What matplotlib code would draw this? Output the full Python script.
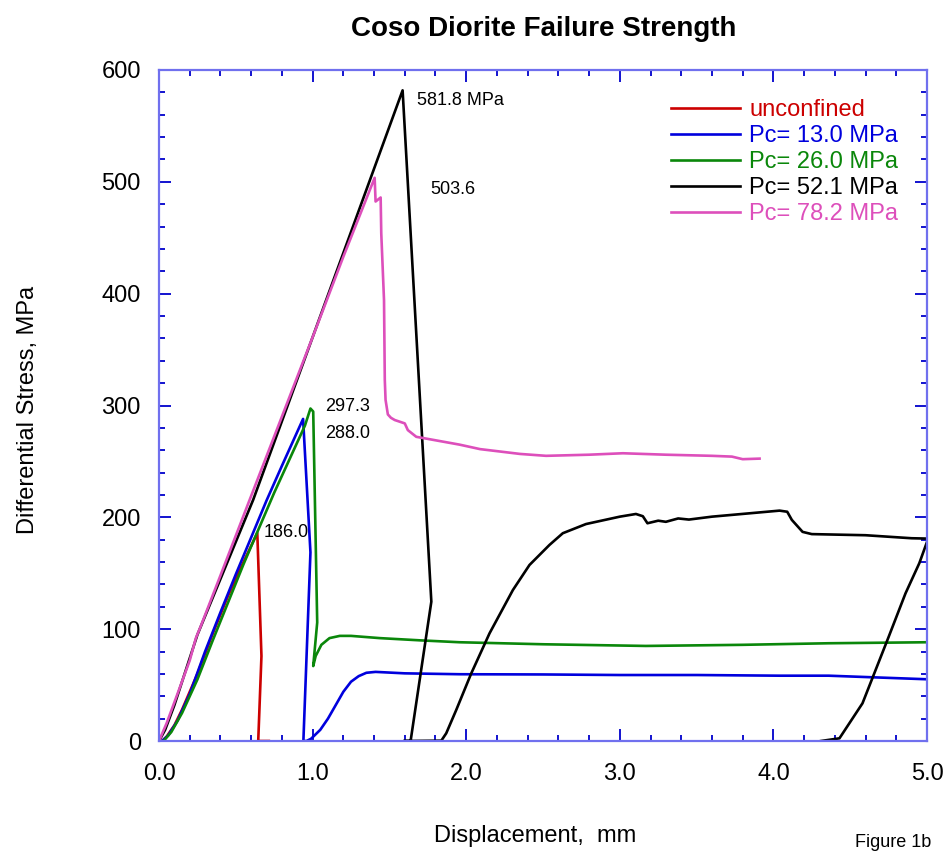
#!/usr/bin/env python3
"""
Coso Diorite failure strength: differential stress vs displacement
for the unconfined test and four confining pressures.
"""

import matplotlib
matplotlib.use('Agg')
import matplotlib.pyplot as plt
from matplotlib.ticker import MultipleLocator, FormatStrFormatter

# ---- data (displacement in mm, stress in MPa) ----
unconf_x = [0.02, 0.05, 0.10, 0.15, 0.25, 0.35, 0.45, 0.55, 0.64, 0.667, 0.646, 0.715]
unconf_y = [0, 4, 14, 28, 60, 96, 130, 160, 186.0, 76, 0, 0]

pc13_x = [0.02, 0.06, 0.12, 0.20, 0.30, 0.40, 0.50, 0.60, 0.70, 0.80, 0.938,
          0.986, 0.94, 0.96, 0.99, 1.05, 1.10, 1.15, 1.20, 1.25, 1.30, 1.35,
          1.41, 1.60, 1.96, 2.50, 3.00, 3.50, 4.04, 4.36, 5.00]
pc13_y = [0, 5, 18, 42, 80, 115, 149, 182, 215, 246, 288.0,
          168.7, 0, 0, 2, 10, 20, 32, 44, 53, 58, 61,
          61.8, 60.5, 59.7, 59.5, 59, 59, 58.4, 58.4, 55.2]

pc26_x = [0.03, 0.08, 0.15, 0.25, 0.35, 0.45, 0.55, 0.65, 0.75, 0.85, 0.95,
          0.986, 1.004, 1.03, 1.004, 1.02, 1.057, 1.11, 1.177, 1.25, 1.437,
          1.70, 1.957, 2.50, 3.17, 3.80, 4.36, 5.00]
pc26_y = [0, 8, 25, 55, 90, 124, 158, 190, 222, 252, 282,
          297.3, 294.6, 106, 67, 76, 86, 92, 94, 94, 92,
          90, 88.3, 86.5, 85, 86, 87.4, 88.3]

pc52_x = [0.0, 0.04, 0.10, 0.25, 0.613, 1.00, 1.30, 1.586, 1.773, 1.638,
          1.593, 1.838, 1.87, 1.935, 2.033, 2.152, 2.304, 2.412, 2.542,
          2.629, 2.78, 3.00, 3.105, 3.15, 3.18, 3.25, 3.30, 3.38, 3.45,
          3.60, 4.04, 4.09, 4.12, 4.19, 4.25, 4.60, 4.90, 5.00]
pc52_y = [0, 10, 32, 95, 215.6, 361, 474, 581.8, 124.6, 0,
          0, 0.3, 6.9, 27.7, 60.5, 96.3, 135, 157.4, 175.3,
          185.8, 194, 200.6, 203, 201, 194.7, 197, 196, 199, 198,
          200.6, 206, 205, 197.7, 187, 185, 184, 181.3, 181]
# second loading leg of the 52.1 MPa run, entering at the right edge
pc52_tail_x = [4.31, 4.43, 4.58, 4.75, 4.86, 4.95, 5.00]
pc52_tail_y = [0, 2.4, 33.7, 93, 132, 159, 178]

pc78_x = [0.0, 0.05, 0.12, 0.20, 0.24, 0.27, 0.40, 0.59, 0.80, 1.00, 1.20,
          1.404, 1.41, 1.443, 1.447, 1.465, 1.47, 1.475, 1.49, 1.51, 1.535,
          1.60, 1.62, 1.675, 1.957, 2.09, 2.35, 2.52, 2.80, 3.02, 3.30,
          3.60, 3.73, 3.80, 3.91]
pc78_y = [0, 16, 42, 72, 92, 102, 148, 215.6, 290, 361, 433,
          503.6, 482.4, 486, 454, 394, 323, 305, 292, 289, 287,
          284, 278, 272, 265, 261, 256.7, 255, 256, 257.3, 256,
          255, 254.3, 252, 252.5]

series_labels = ['unconfined', 'Pc= 13.0 MPa', 'Pc= 26.0 MPa',
                 'Pc= 52.1 MPa', 'Pc= 78.2 MPa']
series_colors = ['#cc0000', '#0000dd', '#0a870a', '#000000', '#dd4fbb']

# peak value labels: (x, y, text)
peak_labels = [
    (1.677, 573, '581.8 MPa'),
    (1.768, 493, '503.6'),
    (1.079, 299, '297.3'),
    (1.079, 275, '288.0'),
    (0.683, 186, '186.0'),
]


def main():
    plt.rcParams['font.family'] = ['Liberation Sans', 'DejaVu Sans']

    fig = plt.figure(figsize=(9.49, 8.52), dpi=100)
    ax = fig.add_axes([159 / 949, 111 / 852, 768 / 949, 671 / 852])

    curves = [(unconf_x, unconf_y), (pc13_x, pc13_y), (pc26_x, pc26_y),
              (pc52_x, pc52_y), (pc78_x, pc78_y)]
    for (xs, ys), label, color in zip(curves, series_labels, series_colors):
        ax.plot(xs, ys, color=color, linewidth=1.9, label=label,
                solid_joinstyle='round')
    ax.plot(pc52_tail_x, pc52_tail_y, color=series_colors[3], linewidth=1.9)

    for x, y, text in peak_labels:
        ax.text(x, y, text, fontsize=13, va='center', ha='left')

    ax.set_xlim(0, 5.0)
    ax.set_ylim(0, 600)
    ax.xaxis.set_major_locator(MultipleLocator(1.0))
    ax.xaxis.set_minor_locator(MultipleLocator(0.2))
    ax.xaxis.set_major_formatter(FormatStrFormatter('%.1f'))
    ax.yaxis.set_major_locator(MultipleLocator(100))
    ax.yaxis.set_minor_locator(MultipleLocator(20))

    ax.tick_params(which='both', direction='in', top=True, right=True,
                   color='#0000cc', width=1.3, labelsize=17)
    ax.tick_params(which='major', length=8.5)
    ax.tick_params(which='minor', length=4.5)
    ax.tick_params(axis='x', pad=16)
    ax.tick_params(axis='y', pad=13)
    for spine in ax.spines.values():
        spine.set_color('#7070ee')
        spine.set_linewidth(1.6)

    ax.legend(loc='upper left', bbox_to_anchor=(0.667, 0.957), frameon=False,
              fontsize=17, handlelength=2.9, handletextpad=0.4,
              labelspacing=0.17, borderpad=0, borderaxespad=0,
              labelcolor='linecolor')

    fig.text(544 / 949, 1 - 29 / 852, 'Coso Diorite Failure Strength',
             ha='center', va='center', fontsize=20, fontweight='bold')
    fig.text(535 / 949, 1 - 836 / 852, 'Displacement,  mm',
             ha='center', va='center', fontsize=17)
    fig.text(28 / 949, 1 - 410 / 852, 'Differential Stress, MPa',
             ha='center', va='center', rotation=90, fontsize=17)
    fig.text(855 / 949, 1 - 851 / 852, 'Figure 1b',
             ha='left', va='bottom', fontsize=13)

    fig.savefig('out.png', dpi=100)
    plt.close(fig)


if __name__ == '__main__':
    main()
